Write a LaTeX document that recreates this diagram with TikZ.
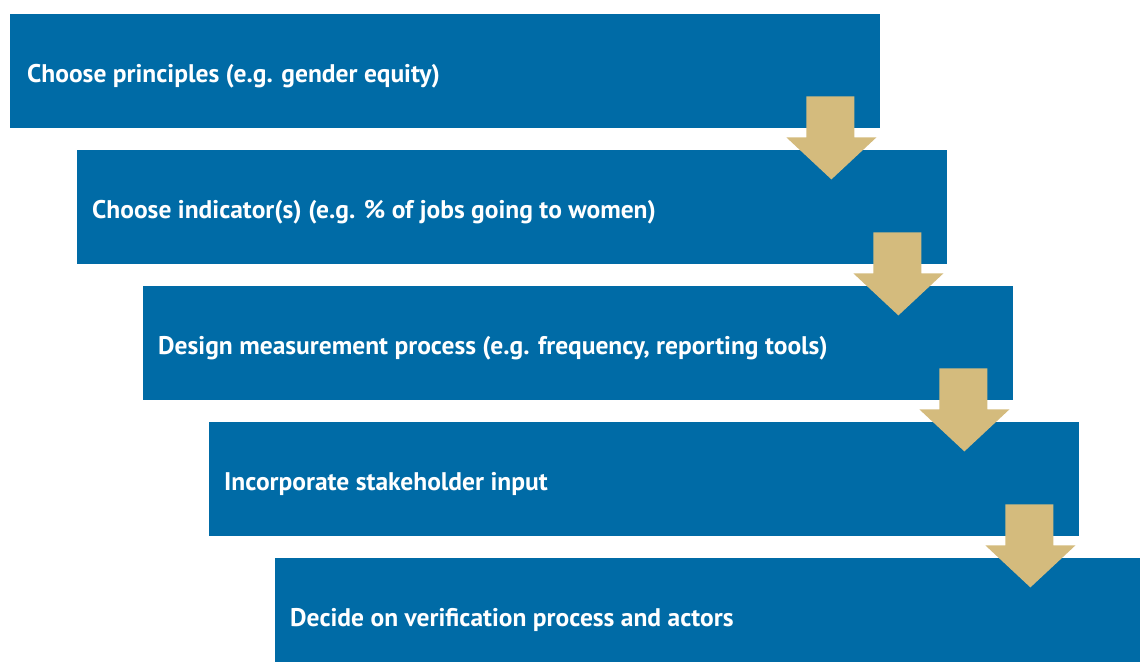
\documentclass[tikz,border=0pt]{standalone}
\usepackage{fontspec}
\setmainfont{PT Sans}
\usetikzlibrary{calc}
\definecolor{boxblue}{HTML}{006BA6}
\definecolor{arrowgold}{HTML}{D4BB7D}
\tikzset{
  stepbox/.style={fill=boxblue, draw=none, minimum width=870pt, minimum height=114pt, anchor=north west, inner sep=0pt},
  steptext/.style={text=white, font=\bfseries\fontsize{25.5}{30}\selectfont, anchor=base west, inner sep=0pt},
  goldarrow/.style={fill=arrowgold, draw=none}
}
\begin{document}
\begin{tikzpicture}[x=1pt,y=-1pt]
\useasboundingbox (0,0) rectangle (1140,661);
\clip (0,0) rectangle (1140,661);
\node[stepbox] (b1) at (10,14) {};
\node[stepbox] (b2) at (77,150) {};
\node[stepbox] (b3) at (143,286) {};
\node[stepbox] (b4) at (209,422) {};
\node[stepbox] (b5) at (275,558) {};
\node[steptext] (t1) at ($(b1.west)+(17,11)$) {Choose principles (e.g. gender equity)};
\node[steptext] (t2) at ($(b2.west)+(15,11)$) {Choose indicator(s) (e.g. \% of jobs going to women)};
\node[steptext] (t3) at ($(b3.west)+(15,11)$) {Design measurement process (e.g. frequency, reporting tools)};
\node[steptext] (t4) at ($(b4.west)+(15,11)$) {Incorporate stakeholder input};
\node[steptext] (t5) at ($(b5.west)+(15,11)$) {Decide on verification process and actors};
\foreach \b in {b1,b2,b3,b4}{
\fill[goldarrow] ($(\b.south east)+(-74,-32)$) -- ($(\b.south east)+(-26,-32)$)
    -- ($(\b.south east)+(-26,9)$) -- ($(\b.south east)+(-4,9)$)
    -- ($(\b.south east)+(-49,51)$)
    -- ($(\b.south east)+(-94,9)$) -- ($(\b.south east)+(-74,9)$) -- cycle;
}
\end{tikzpicture}
\end{document}
